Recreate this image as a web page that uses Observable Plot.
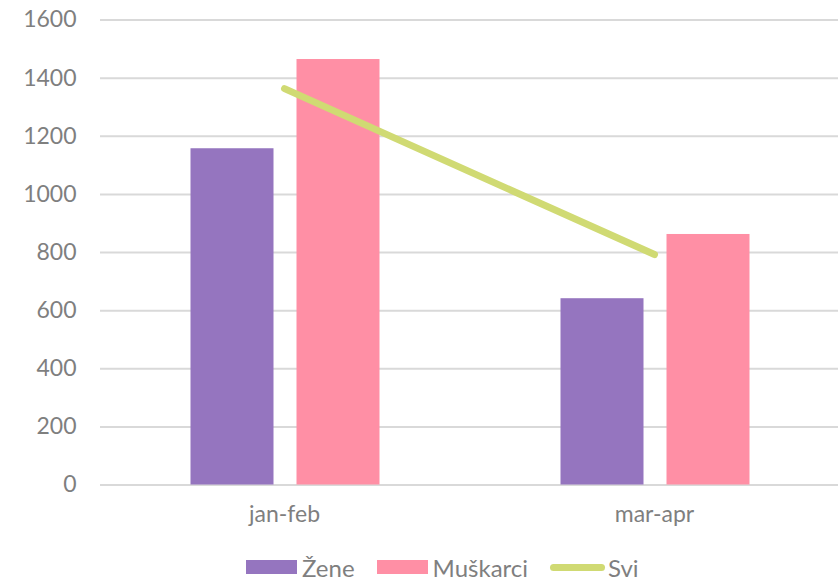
<!DOCTYPE html>
<html><head><meta charset="utf-8">
<script src="https://cdn.jsdelivr.net/npm/d3@7"></script>
<script src="https://cdn.jsdelivr.net/npm/@observablehq/plot@0.6"></script>
<style>
body{margin:0;background:#fff;font-family:Lato,"Open Sans",sans-serif;}
#legend{display:flex;align-items:center;padding-left:246px;padding-top:12px;height:30px;color:#7f7f7f;font-size:24px;}
.item{display:flex;align-items:center;margin-right:22px;}
.sw{width:51px;height:14px;margin-right:5px;}
.ln{width:55px;height:7px;border-radius:4px;margin-right:3px;}
</style></head><body>
<div id="chart"></div>
<div id="legend"></div>
<script>
const periods = ["jan-feb", "mar-apr"];
const zene = [1157, 641];
const muskarci = [1464, 862];
const svi = [1364, 793];
const yTicks = [0, 200, 400, 600, 800, 1000, 1200, 1400, 1600];
const seriesNames = ["Žene", "Muškarci", "Svi"];
const colors = ["#9575bf", "#ff8fa5", "#d0da73"];

const barsZ = periods.map((p, i) => ({period: p, value: zene[i]}));
const barsM = periods.map((p, i) => ({period: p, value: muskarci[i]}));
const lineData = periods.map((p, i) => ({period: p, value: svi[i]}));

const chart = Plot.plot({
  width: 838,
  height: 540,
  marginLeft: 100,
  marginRight: 0,
  marginTop: 19.5,
  marginBottom: 55.5,
  style: {fontFamily: "Lato, 'Open Sans', sans-serif", fontSize: "23px", color: "#7f7f7f", background: "#fff"},
  x: {domain: periods, range: [98.5, 838.5], padding: 0, label: null, tickSize: 0, tickPadding: 21},
  y: {domain: [0, 1600], ticks: yTicks, label: null, tickSize: 0, tickPadding: 24, tickFormat: d => String(d)},
  marks: [
    Plot.ruleY(yTicks, {stroke: "#d9d9d9", strokeWidth: 2}),
    Plot.barY(barsZ, {x: "period", y: "value", fill: colors[0], insetLeft: 91.5, insetRight: 195.5}),
    Plot.barY(barsM, {x: "period", y: "value", fill: colors[1], insetLeft: 197.5, insetRight: 89.5}),
    Plot.line(lineData, {x: "period", y: "value", stroke: colors[2], strokeWidth: 7, strokeLinecap: "round"})
  ]
});
document.getElementById("chart").appendChild(chart);

const legend = document.getElementById("legend");
seriesNames.forEach((name, i) => {
  const item = document.createElement("div");
  item.className = "item";
  const sw = document.createElement("div");
  sw.className = i === 2 ? "ln" : "sw";
  sw.style.background = colors[i];
  const t = document.createElement("span");
  t.textContent = name;
  item.appendChild(sw);
  item.appendChild(t);
  legend.appendChild(item);
});
</script>
</body></html>
